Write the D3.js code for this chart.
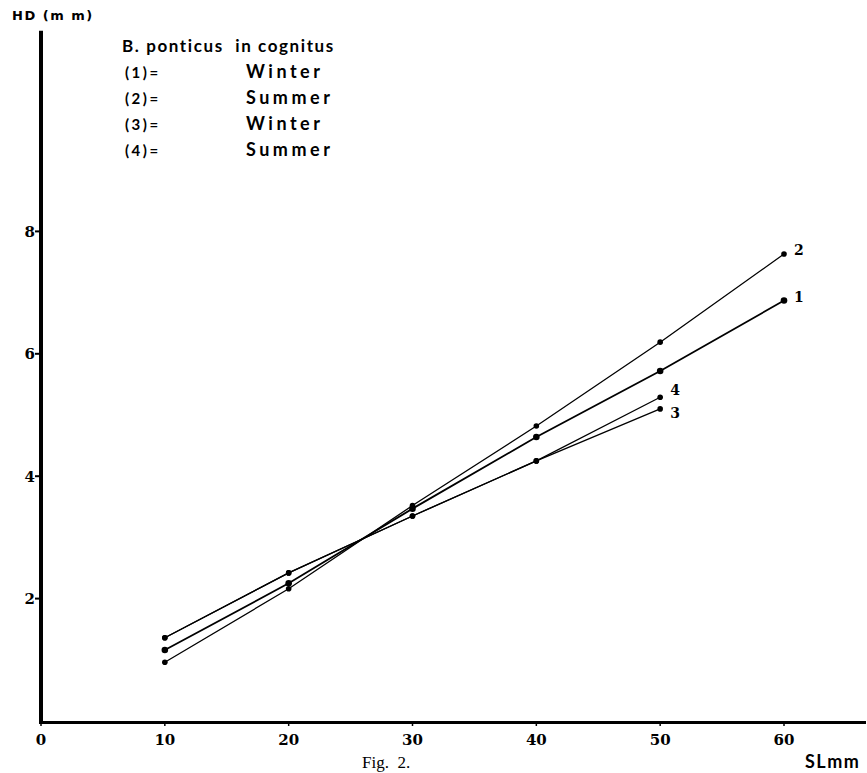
<!DOCTYPE html>
<html>
<head>
<meta charset="utf-8">
<script src="https://cdn.jsdelivr.net/npm/d3@7"></script>
<style>
  body { margin: 0; background: #fff; }
  svg { display: block; }
</style>
</head>
<body>
<div id="chart"></div>
<script>
// SL (mm) at which head depth was measured
const sl = [10, 20, 30, 40, 50, 60];
// head depth (mm), one array per curve
const hd1 = [1.16, 2.25, 3.47, 4.64, 5.72, 6.87];
const hd2 = [0.96, 2.16, 3.52, 4.82, 6.19, 7.63];
const hd3 = [1.36, 2.42, 3.35, 4.25, 5.10];
const hd4 = [1.36, 2.42, 3.35, 4.25, 5.29];

const yTicks = [2, 4, 6, 8];
const xTicks = [0, 10, 20, 30, 40, 50, 60];

const legendTitle = "B. ponticus  in cognitus";
const legendKeys = ["(1)=", "(2)=", "(3)=", "(4)="];
const legendNames = ["Winter", "Summer", "Winter", "Summer"];

// styling per curve (line weight, dot size, end label nudge)
const series = [
  { id: "1", values: hd1, width: 1.8, r: 3.3, dy: -3 },
  { id: "2", values: hd2, width: 1.3, r: 2.8, dy: -4 },
  { id: "3", values: hd3, width: 1.3, r: 2.8, dy: 4 },
  { id: "4", values: hd4, width: 1.3, r: 2.8, dy: -7 }
];

const width = 867, height = 773;

const x = d3.scaleLinear().domain([0, 60]).range([41, 784]);
const y = d3.scaleLinear().domain([0, 8]).range([721, 231.4]);

const svg = d3.select("#chart").append("svg")
    .attr("width", width)
    .attr("height", height);

// axes drawn as heavy hand-ruled lines
svg.append("line")
    .attr("x1", x(0)).attr("x2", x(0))
    .attr("y1", y(11.28)).attr("y2", y(0) + 3)
    .attr("stroke", "#000").attr("stroke-width", 4);

svg.append("line")
    .attr("x1", x(0) - 2).attr("x2", 866)
    .attr("y1", y(0) + 1.5).attr("y2", y(0) + 1.5)
    .attr("stroke", "#000").attr("stroke-width", 3);

const tickFont = "'DejaVu Serif', serif";

// y ticks
const yt = svg.append("g").selectAll("g")
  .data(yTicks)
  .join("g")
    .attr("transform", d => `translate(0,${y(d)})`);
yt.append("line")
    .attr("x1", x(0) - 6).attr("x2", x(0))
    .attr("stroke", "#000").attr("stroke-width", 2);
yt.append("text")
    .attr("x", x(0) - 6)
    .attr("dy", "0.36em")
    .attr("text-anchor", "end")
    .attr("font-family", tickFont)
    .attr("font-weight", "bold")
    .attr("font-size", 15)
    .text(d => d);

// x ticks
const xt = svg.append("g").selectAll("g")
  .data(xTicks)
  .join("g")
    .attr("transform", d => `translate(${x(d)},0)`);
xt.append("line")
    .attr("y1", y(0)).attr("y2", y(0) + 5)
    .attr("stroke", "#000").attr("stroke-width", 1.5);
xt.append("text")
    .attr("y", 745)
    .attr("text-anchor", "middle")
    .attr("font-family", tickFont)
    .attr("font-weight", "bold")
    .attr("font-size", 15)
    .text(d => d);

// axis titles
svg.append("text")
    .attr("x", 12).attr("y", 20)
    .attr("font-family", "'DejaVu Sans', sans-serif")
    .attr("font-weight", "bold")
    .attr("font-size", 13)
    .attr("letter-spacing", 1.5)
    .text("HD (m m)");

svg.append("text")
    .attr("x", 805).attr("y", 768)
    .attr("font-family", "Lato, sans-serif")
    .attr("font-weight", "bold")
    .attr("font-size", 18)
    .attr("letter-spacing", 1.5)
    .text("SLmm");

svg.append("text")
    .attr("x", 362).attr("y", 768)
    .attr("font-family", "'Liberation Serif', serif")
    .attr("font-size", 17)
    .attr("xml:space", "preserve")
    .text("Fig.  2.");

// legend
const legendFont = "Lato, sans-serif";
svg.append("text")
    .attr("x", 122).attr("y", 52)
    .attr("font-family", legendFont)
    .attr("font-weight", "bold")
    .attr("font-size", 17)
    .attr("letter-spacing", 1.6)
    .attr("xml:space", "preserve")
    .text(legendTitle);

const lg = svg.append("g").selectAll("g")
  .data(legendKeys)
  .join("g")
    .attr("transform", (d, i) => `translate(0,${78 + i * 26})`);
lg.append("text")
    .attr("x", 125)
    .attr("font-family", legendFont)
    .attr("font-weight", "bold")
    .attr("font-size", 15)
    .attr("letter-spacing", 2.5)
    .text(d => d);
lg.append("text")
    .attr("x", 246)
    .attr("font-family", legendFont)
    .attr("font-weight", "bold")
    .attr("font-size", 18)
    .attr("letter-spacing", 3.5)
    .text((d, i) => legendNames[i]);

// curves
const line = d3.line()
    .x((d, i) => x(sl[i]))
    .y(d => y(d));

const g = svg.append("g");
series.forEach(s => {
  g.append("path")
      .attr("d", line(s.values))
      .attr("fill", "none")
      .attr("stroke", "#000")
      .attr("stroke-width", s.width);
  g.selectAll(null)
    .data(s.values)
    .join("circle")
      .attr("cx", (d, i) => x(sl[i]))
      .attr("cy", d => y(d))
      .attr("r", s.r)
      .attr("fill", "#000");
  const last = s.values.length - 1;
  g.append("text")
      .attr("x", x(sl[last]) + 10)
      .attr("y", y(s.values[last]) + s.dy)
      .attr("dy", "0.35em")
      .attr("font-family", tickFont)
      .attr("font-weight", "bold")
      .attr("font-size", 14)
      .text(s.id);
});
</script>
</body>
</html>
